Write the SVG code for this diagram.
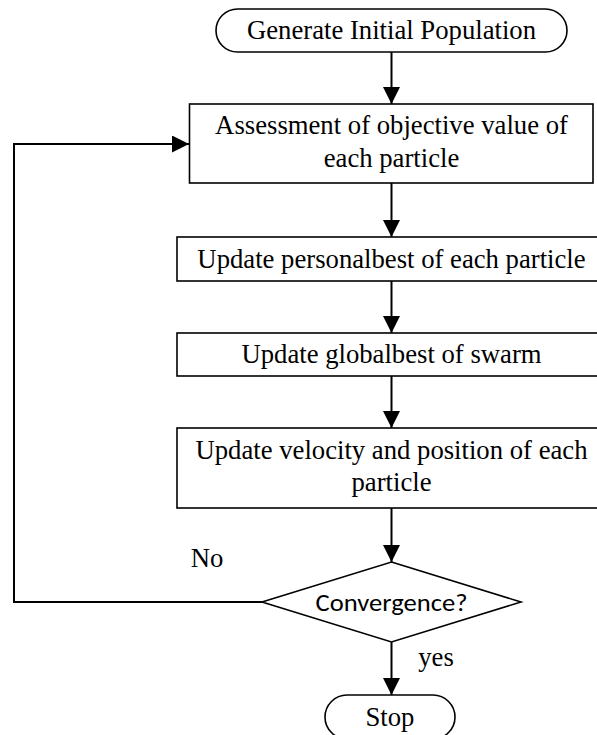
<svg xmlns="http://www.w3.org/2000/svg" width="597" height="735" viewBox="0 0 597 735">
  <style>
    .box { fill: #ffffff; stroke: #000000; stroke-width: 1.6; }
    .lbl { font-family: "Liberation Serif", "Times New Roman", serif; font-size: 26.7px; fill: #000000; text-anchor: middle; }
    .sans { font-family: Carlito, Lato, "Liberation Sans", sans-serif; font-size: 25px; fill: #000000; text-anchor: middle; }
    .edge { fill: none; stroke: #000000; stroke-width: 2; }
  </style>
  <defs>
    <marker id="arrow" markerUnits="userSpaceOnUse" markerWidth="17" markerHeight="17" refX="17" refY="8.5" orient="auto">
      <path d="M0,0 L17,8.5 L0,17 Z" fill="#000000"/>
    </marker>
  </defs>
  <rect width="597" height="735" fill="#ffffff"/>

  <!-- connectors -->
  <g id="connectors">
    <line class="edge" x1="391.5" y1="52" x2="391.5" y2="104" marker-end="url(#arrow)"/>
    <line class="edge" x1="391.5" y1="183" x2="391.5" y2="237" marker-end="url(#arrow)"/>
    <line class="edge" x1="391.5" y1="281" x2="391.5" y2="333" marker-end="url(#arrow)"/>
    <line class="edge" x1="391.5" y1="376" x2="391.5" y2="428" marker-end="url(#arrow)"/>
    <line class="edge" x1="391.5" y1="508" x2="391.5" y2="562" marker-end="url(#arrow)"/>
    <line class="edge" x1="391.5" y1="642" x2="391.5" y2="695" marker-end="url(#arrow)"/>
    <path class="edge" d="M262,602 H14 V144 H189" marker-end="url(#arrow)"/>
    <text class="lbl" x="207" y="567">No</text>
    <text class="lbl" x="436" y="666">yes</text>
  </g>

  <g id="start">
    <rect class="box" x="216" y="9" width="351" height="43" rx="21.5" ry="21.5"/>
    <text class="lbl" x="391.5" y="38.5">Generate Initial Population</text>
  </g>

  <g id="evaluate">
    <rect class="box" x="189.5" y="104" width="403.5" height="79"/>
    <text class="lbl" x="391.5" y="134">Assessment of objective value of</text>
    <text class="lbl" x="391.5" y="167">each particle</text>
  </g>

  <g id="personal-best">
    <rect class="box" x="177" y="237" width="421" height="44"/>
    <text class="lbl" x="391.5" y="268">Update personalbest of each particle</text>
  </g>

  <g id="global-best">
    <rect class="box" x="177" y="333" width="421" height="43"/>
    <text class="lbl" x="391.5" y="363">Update globalbest of swarm</text>
  </g>

  <g id="move">
    <rect class="box" x="177" y="428" width="421" height="80"/>
    <text class="lbl" x="391.5" y="459">Update velocity and position of each</text>
    <text class="lbl" x="391.5" y="491">particle</text>
  </g>

  <g id="check">
    <polygon class="box" points="391.5,562 521,602 391.5,642 262,602"/>
    <text class="sans" x="391.5" y="611" textLength="152" lengthAdjust="spacingAndGlyphs">Convergence?</text>
  </g>

  <g id="stop">
    <rect class="box" x="325" y="695" width="130" height="44" rx="22" ry="22"/>
    <text class="lbl" x="390" y="726">Stop</text>
  </g>
</svg>
